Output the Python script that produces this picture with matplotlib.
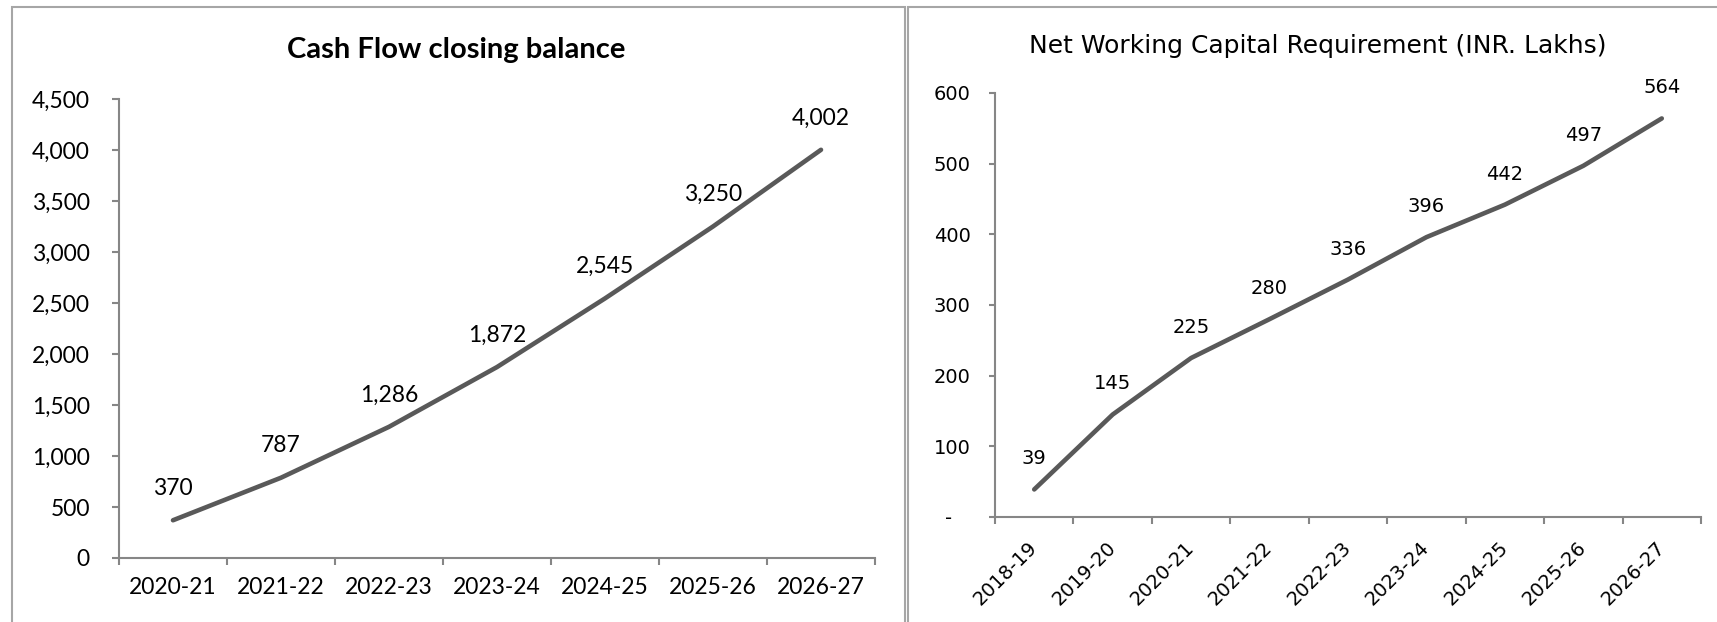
import matplotlib
matplotlib.use("Agg")
import matplotlib.pyplot as plt
from matplotlib.patches import Rectangle

# data
cash_years = ["2020-21", "2021-22", "2022-23", "2023-24", "2024-25", "2025-26", "2026-27"]
cash_balance = [370, 787, 1286, 1872, 2545, 3250, 4002]
cash_yticks = [0, 500, 1000, 1500, 2000, 2500, 3000, 3500, 4000, 4500]

nwc_years = ["2018-19", "2019-20", "2020-21", "2021-22", "2022-23", "2023-24",
             "2024-25", "2025-26", "2026-27"]
nwc_values = [39, 145, 225, 280, 336, 396, 442, 497, 564]
nwc_yticks = [0, 100, 200, 300, 400, 500, 600]
nwc_ytick_labels = ["-   ", "100", "200", "300", "400", "500", "600"]

W, H = 1717, 622
LINE = "#595959"
AXIS = "#868686"
FRAME = "#a6a6a6"


def fx(x):
    return x / W


def fy(y):
    return 1 - y / H


def cat_axis(ax, labels, tick_len):
    """ osa s kategoriemi: carky na hranicich, popisky uprostred """
    n = len(labels)
    ax.set_xlim(-0.5, n - 0.5)
    ax.set_xticks([i - 0.5 for i in range(n + 1)])
    ax.set_xticklabels([])
    ax.set_xticks(range(n), minor=True)
    ax.set_xticklabels(labels, minor=True)
    ax.tick_params(axis="x", which="major", length=tick_len, width=1.5, color=AXIS)
    ax.tick_params(axis="x", which="minor", length=0)
    for s in ["top", "right"]:
        ax.spines[s].set_visible(False)
    for s in ["left", "bottom"]:
        ax.spines[s].set_color(AXIS)
        ax.spines[s].set_linewidth(1.5)


fig = plt.figure(figsize=(W / 100, H / 100), dpi=100)

# ramecky kolem obou grafu
fig.add_artist(Rectangle((fx(12), fy(640)), fx(905) - fx(12), fy(7) - fy(640),
                         transform=fig.transFigure, fill=False, edgecolor=FRAME, lw=1.5))
fig.add_artist(Rectangle((fx(908), fy(640)), fx(1740) - fx(908), fy(7) - fy(640),
                         transform=fig.transFigure, fill=False, edgecolor=FRAME, lw=1.5))

# levy graf - Cash Flow closing balance
lfont = ["Lato", "DejaVu Sans"]
ax1 = fig.add_axes([fx(119), fy(558), fx(875) - fx(119), fy(99) - fy(558)])
ax1.plot(range(len(cash_balance)), cash_balance, color=LINE, lw=3.3, solid_capstyle="round")
cat_axis(ax1, cash_years, 5)
ax1.set_ylim(0, 4500)
ax1.set_yticks(cash_yticks)
ax1.set_yticklabels([f"{v:,}" for v in cash_yticks], family=lfont, fontsize=16.5)
ax1.tick_params(axis="y", length=5, width=1.5, color=AXIS, pad=16)
ax1.tick_params(axis="x", which="minor", pad=14)
for lab in ax1.get_xticklabels(minor=True):
    lab.set_family(lfont)
    lab.set_fontsize(16.5)
for i, v in enumerate(cash_balance):
    ax1.annotate(f"{v:,}", (i, v), xytext=(0, 23), textcoords="offset points",
                 ha="center", va="center", family=lfont, fontsize=16.5)
fig.text(fx(456), fy(58), "Cash Flow closing balance", ha="center", va="baseline",
         family=lfont, fontsize=21, fontweight="bold")

# pravy graf - Net Working Capital Requirement
rfont = ["DejaVu Sans"]
ax2 = fig.add_axes([fx(995), fy(517), fx(1701) - fx(995), fy(93) - fy(517)])
ax2.plot(range(len(nwc_values)), nwc_values, color=LINE, lw=3.3, solid_capstyle="round")
cat_axis(ax2, nwc_years, 5)
ax2.set_ylim(0, 600)
ax2.set_yticks(nwc_yticks)
ax2.set_yticklabels(nwc_ytick_labels, family=rfont, fontsize=14)
ax2.tick_params(axis="y", length=4.5, width=1.5, color=AXIS, pad=13)
ax2.tick_params(axis="x", which="minor", pad=20)
for lab in ax2.get_xticklabels(minor=True):
    lab.set_family(rfont)
    lab.set_fontsize(14)
    lab.set_rotation(45)
    lab.set_ha("right")
    lab.set_va("center")
    lab.set_rotation_mode("anchor")
for i, v in enumerate(nwc_values):
    ax2.annotate(f"{v:,}", (i, v), xytext=(0, 22), textcoords="offset points",
                 ha="center", va="center", family=rfont, fontsize=14)
fig.text(fx(1318), fy(53), "Net Working Capital Requirement (INR. Lakhs)", ha="center",
         va="baseline", family=rfont, fontsize=18)

fig.savefig("out.png", dpi=100)
